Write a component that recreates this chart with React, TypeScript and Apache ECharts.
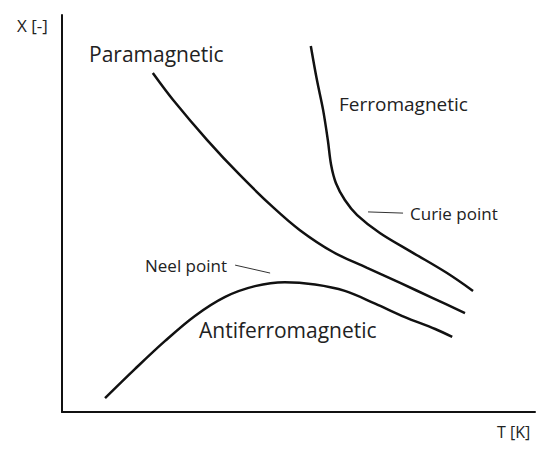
import React, { useEffect, useRef } from "react";
import * as echarts from "echarts";

// Temperature T (arbitrary units 0-100) and susceptibility X (arbitrary units 0-100)
const paraT = [19.2, 23.5, 30.7, 37.6, 44.6, 50.3, 57.3, 64.5, 71.5, 78.4, 85.2];
const paraX = [85.4, 78.6, 68.5, 59.7, 51.6, 45.8, 40.3, 36.3, 32.5, 28.7, 24.9];

const ferroT = [52.6, 53.9, 55.2, 56.2, 56.9, 57.9, 59.8, 62.4, 67.2, 74.2, 81.4, 86.9];
const ferroX = [92.2, 83.6, 76.1, 68.5, 62.2, 57.7, 53.4, 49.6, 45.1, 40.1, 35.0, 30.5];

const antiT = [9.1, 15.4, 21.8, 28.1, 34.5, 40.8, 47.1, 53.5, 59.8, 66.2, 72.5, 78.9, 82.5];
const antiX = [3.5, 10.8, 17.9, 24.2, 29.0, 31.7, 32.7, 32.1, 30.5, 27.3, 23.9, 20.9, 18.9];

const curieLeaderT = [64.7, 72.1];
const curieLeaderX = [50.4, 50.1];
const neelLeaderT = [36.6, 44.0];
const neelLeaderX = [37.0, 35.0];

const labels = {
  para: "Paramagnetic",
  ferro: "Ferromagnetic",
  anti: "Antiferromagnetic",
  curie: "Curie point",
  neel: "Neel point",
  xName: "X [-]",
  tName: "T [K]",
};

const zip = (a: number[], b: number[]) => a.map((v, i) => [v, b[i]]);

export default function App() {
  const ref = useRef<HTMLDivElement>(null);
  useEffect(() => {
    if (!ref.current) return;
    const chart = echarts.init(ref.current, null, { renderer: "svg" });
    const font = "'Open Sans', 'Noto Sans', sans-serif";
    const curve = (data: number[][]) => ({
      type: "line",
      data,
      smooth: 0.35,
      showSymbol: false,
      lineStyle: { color: "#111", width: 2.5 },
    });
    const leader = (data: number[][]) => ({
      type: "line",
      data,
      showSymbol: false,
      lineStyle: { color: "#333", width: 1 },
    });
    const txt = (text: string, x: number, y: number, size: number) => ({
      type: "text",
      x,
      y,
      style: { text, font: `${size}px ${font}`, fill: "#222", align: "left", verticalAlign: "middle" },
    });
    chart.setOption({
      animation: false,
      backgroundColor: "#fff",
      grid: { left: 62, right: 15, top: 15, bottom: 39 },
      xAxis: {
        type: "value",
        min: 0,
        max: 100,
        axisLine: { show: true, lineStyle: { color: "#111", width: 2 } },
        axisTick: { show: false },
        axisLabel: { show: false },
        splitLine: { show: false },
      },
      yAxis: {
        type: "value",
        min: 0,
        max: 100,
        axisLine: { show: true, lineStyle: { color: "#111", width: 2 } },
        axisTick: { show: false },
        axisLabel: { show: false },
        splitLine: { show: false },
      },
      series: [
        curve(zip(paraT, paraX)),
        curve(zip(ferroT, ferroX)),
        curve(zip(antiT, antiX)),
        leader(zip(curieLeaderT, curieLeaderX)),
        leader(zip(neelLeaderT, neelLeaderX)),
      ],
      graphic: [
        txt(labels.xName, 17, 25, 17),
        txt(labels.tName, 497, 432, 16),
        txt(labels.para, 89, 54, 21),
        txt(labels.ferro, 339, 104, 19),
        txt(labels.anti, 199, 330, 21),
        txt(labels.curie, 410, 213, 17),
        txt(labels.neel, 145, 265, 17),
      ],
    });
    return () => chart.dispose();
  }, []);
  return <div ref={ref} style={{ width: 550, height: 451, position: "absolute", left: 0, top: 0 }} />;
}
